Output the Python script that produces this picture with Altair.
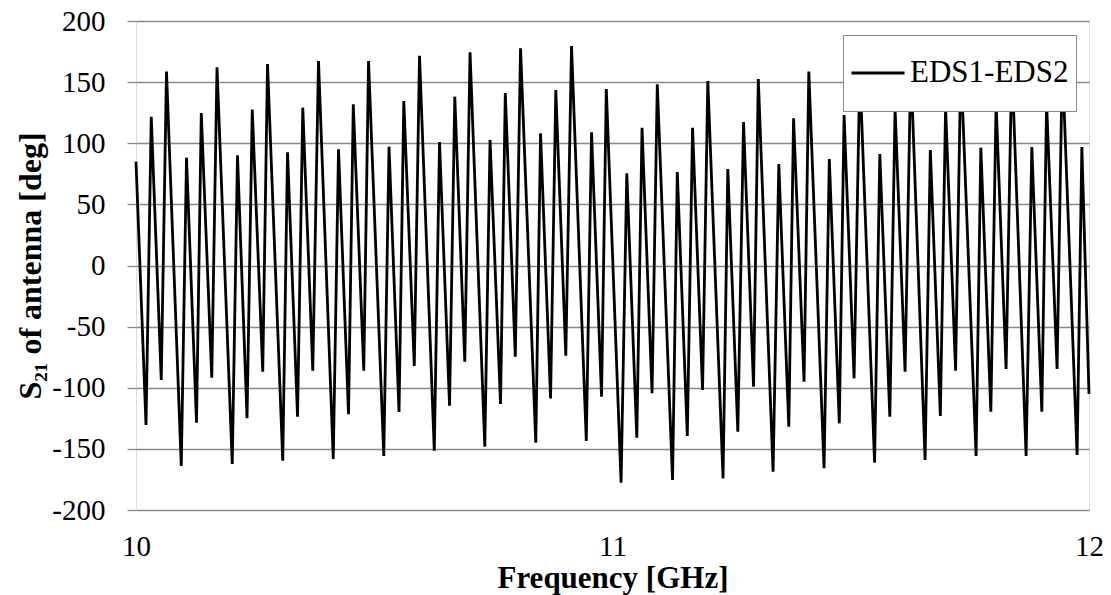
import altair as alt
import pandas as pd

# Frequency [GHz] of each vertex of the phase curve
freq = [
    10.000, 10.021, 10.032, 10.053, 10.064, 10.095, 10.106, 10.127, 10.137, 10.159,
    10.170, 10.202, 10.213, 10.233, 10.244, 10.266, 10.276, 10.308, 10.318, 10.339,
    10.350, 10.371, 10.383, 10.414, 10.425, 10.446, 10.456, 10.478, 10.488, 10.520,
    10.531, 10.552, 10.562, 10.584, 10.595, 10.626, 10.637, 10.658, 10.669, 10.690,
    10.701, 10.732, 10.743, 10.765, 10.775, 10.796, 10.807, 10.839, 10.849, 10.870,
    10.881, 10.902, 10.914, 10.945, 10.956, 10.977, 10.987, 11.018, 11.030, 11.051,
    11.062, 11.083, 11.094, 11.126, 11.136, 11.157, 11.168, 11.189, 11.200, 11.232,
    11.242, 11.263, 11.275, 11.296, 11.306, 11.337, 11.349, 11.370, 11.380, 11.402,
    11.412, 11.444, 11.455, 11.476, 11.486, 11.507, 11.519, 11.550, 11.561, 11.582,
    11.593, 11.614, 11.626, 11.656, 11.667, 11.688, 11.699, 11.720, 11.731, 11.763,
    11.773, 11.794, 11.805, 11.826, 11.838, 11.868, 11.880, 11.901, 11.911, 11.933,
    11.944, 11.975, 11.985, 12.000,
]

# S21 phase [deg] at each vertex
phase = [
    85, -130.5, 121.7, -93.7, 158.6, -164, 88.2, -128.6, 124.7, -91.8,
    162.1, -162.4, 90.1, -125, 127.5, -86.9, 164.8, -159.7, 92.6, -123.7,
    129.1, -86, 167.3, -158.3, 95, -121.7, 131.8, -86, 167.3, -155.8,
    97.2, -119.8, 134.6, -82.2, 171.6, -151.5, 101, -114.7, 138.1, -78.7,
    174.4, -148.2, 102.7, -113.3, 141.1, -74.6, 177.6, -144.9, 108.1, -108.7,
    143.6, -73.8, 179.6, -143.6, 109, -107.3, 144.4, -177.7, 75.4, -140.9,
    112.7, -104.5, 148.2, -175.5, 76.5, -139.5, 112.7, -101.8, 150.9, -174.1,
    78.9, -135.9, 117.4, -99.1, 152.6, -168.7, 83, -131.9, 120.4, -95,
    158.6, -165.9, 87.1, -129.1, 123.1, -92.3, 160, -161.3, 91.2, -123.7,
    128.6, -86.9, 165.4, -159.1, 94.5, -123.1, 129.2, -86, 166.3, -155.8,
    96.4, -119.6, 132.7, -84.7, 167.6, -155.8, 96.9, -119.6, 132.7, -84.7,
    167.6, -155, 96.9, -105,
]

series_name = "EDS1-EDS2"
y_ticks = [-200, -150, -100, -50, 0, 50, 100, 150, 200]
x_ticks = [10, 11, 12]

df = pd.DataFrame({"freq": freq, "phase": phase, "series": series_name})

FONT = "Liberation Serif"
GRID = "#898989"

chart = (
    alt.Chart(df)
    .mark_line(strokeWidth=2.8, strokeJoin="miter", strokeMiterLimit=10)
    .encode(
        x=alt.X(
            "freq:Q",
            scale=alt.Scale(domain=[10, 12], nice=False),
            axis=alt.Axis(
                values=x_ticks,
                labelExpr="'' + datum.value",
                title="Frequency [GHz]",
                grid=False,
                ticks=False,
                domain=False,
                labelFlush=False,
                labelFont=FONT,
                labelFontSize=29,
                labelColor="black",
                labelPadding=22,
                titleFont=FONT,
                titleFontSize=31,
                titleFontWeight="bold",
                titleColor="black",
                titlePadding=2,
            ),
        ),
        y=alt.Y(
            "phase:Q",
            scale=alt.Scale(domain=[-200, 200], nice=False),
            axis=alt.Axis(
                values=y_ticks,
                labelExpr="'' + datum.value",
                title="S₂₁ of antenna [deg]",
                grid=True,
                gridColor=GRID,
                gridWidth=1.3,
                ticks=True,
                tickColor=GRID,
                tickWidth=1.3,
                tickSize=9,
                domain=False,
                labelFont=FONT,
                labelFontSize=29,
                labelColor="black",
                labelPadding=22,
                titleFont=FONT,
                titleFontSize=32,
                titleFontWeight="bold",
                titleColor="black",
                titleX=-106,
                titleBaseline="middle",
            ),
        ),
        color=alt.Color(
            "series:N",
            scale=alt.Scale(domain=[series_name], range=["black"]),
            legend=alt.Legend(
                title=None,
                orient="none",
                legendX=707,
                legendY=14,
                fillColor="white",
                strokeColor=GRID,
                padding=7,
                clipHeight=62,
                symbolType="stroke",
                symbolSize=2809,
                symbolStrokeWidth=2.8,
                labelFont=FONT,
                labelFontSize=31,
                labelColor="black",
                labelOffset=4,
            ),
        ),
    )
    .properties(
        width=953,
        height=489,
        autosize=alt.AutoSizeParams(type="none"),
        padding={"left": 136, "top": 21, "right": 22, "bottom": 85},
    )
    .configure_view(stroke=GRID, strokeWidth=1.3)
    .configure(background="white")
)

chart.save("out.html", embed_options={"renderer": "svg", "actions": False})
